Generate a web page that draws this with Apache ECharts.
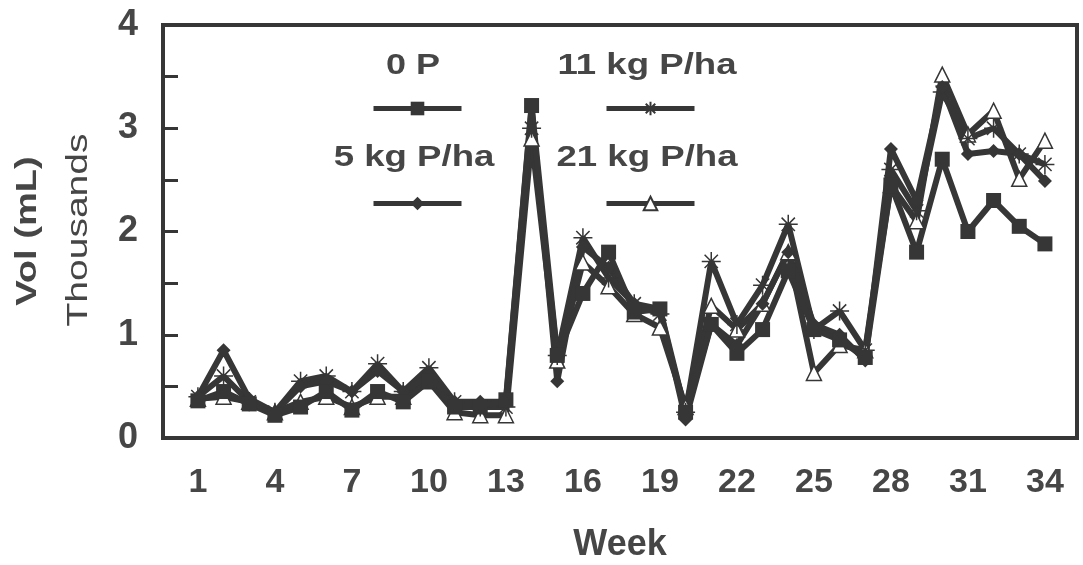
<!DOCTYPE html>
<html>
<head>
<meta charset="utf-8">
<script src="https://cdn.jsdelivr.net/npm/echarts@6/dist/echarts.min.js"></script>
<style>
  html, body { margin: 0; padding: 0; background: #fff; }
  #chart { width: 1083px; height: 565px; }
</style>
</head>
<body>
<div id="chart"></div>
<script>
// weeks 1..34
const weeks = Array.from({ length: 34 }, (_, i) => i + 1);
const weekTicks = [1, 4, 7, 10, 13, 16, 19, 22, 25, 28, 31, 34];

// volumes in thousands of mL
const p0 = [0.36, 0.45, 0.33, 0.22, 0.30, 0.45, 0.27, 0.45, 0.35, 0.55, 0.30, 0.30, 0.37, 3.22, 0.80, 1.40, 1.80, 1.22, 1.25, 0.25,
  1.10, 0.82, 1.05, 1.62, 1.05, 0.95, 0.78, 2.45, 1.80, 2.70, 2.00, 2.30, 2.05, 1.88];
const p5 = [0.40, 0.85, 0.38, 0.25, 0.50, 0.55, 0.45, 0.65, 0.45, 0.60, 0.35, 0.35, 0.35, 3.20, 0.55, 1.85, 1.65, 1.30, 1.25, 0.18,
  1.10, 0.90, 1.30, 1.80, 1.10, 1.00, 0.75, 2.80, 2.30, 3.40, 2.75, 2.78, 2.75, 2.49];
const p11 = [0.40, 0.60, 0.35, 0.25, 0.55, 0.60, 0.45, 0.72, 0.45, 0.68, 0.35, 0.30, 0.30, 3.00, 0.80, 1.94, 1.55, 1.30, 1.20, 0.25,
  1.71, 1.10, 1.48, 2.07, 1.05, 1.23, 0.85, 2.60, 2.20, 3.35, 2.90, 3.00, 2.75, 2.65];
const p21 = [0.38, 0.40, 0.35, 0.25, 0.35, 0.40, 0.30, 0.40, 0.40, 0.55, 0.25, 0.22, 0.22, 2.90, 0.75, 1.70, 1.47, 1.20, 1.07, 0.30,
  1.28, 1.05, 1.30, 1.80, 0.63, 0.90, 0.85, 2.45, 2.10, 3.52, 2.94, 3.17, 2.51, 2.88];

const seriesNames = ['0 P', '5 kg P/ha', '11 kg P/ha', '21 kg P/ha'];

const ink = '#363636';
const textInk = '#464646';
const asterisk = 'path://M10,0L10,20M0,10L20,10M3,3L17,17M3,17L17,3';

function pairs(vals) {
  return vals.map((v, i) => [weeks[i], v]);
}

function lineSeries(name, vals, symbol, size, itemStyle) {
  return {
    name: name,
    type: 'line',
    data: pairs(vals),
    symbol: symbol,
    symbolSize: size,
    showAllSymbol: true,
    lineStyle: { color: ink, width: 6 },
    itemStyle: itemStyle,
    z: 3
  };
}

function legendAt(name, left, top) {
  return {
    data: [name],
    left: left,
    top: top,
    padding: 0,
    itemWidth: 88,
    itemHeight: 17,
    formatter: () => '',
    lineStyle: { width: 5 },
    selectedMode: false
  };
}

function label(text, x, y, font, extra) {
  return Object.assign({
    type: 'text',
    x: x,
    y: y,
    z: 10,
    style: {
      text: text,
      font: font,
      fill: textInk,
      align: 'center',
      verticalAlign: 'middle'
    }
  }, extra || {});
}

const chart = echarts.init(document.getElementById('chart'));

chart.setOption({
  animation: false,
  backgroundColor: '#fff',
  grid: {
    left: 163, right: 6, top: 25, bottom: 127,
    outerBoundsMode: 'none',
    show: true,
    borderColor: ink,
    borderWidth: 4
  },
  xAxis: {
    type: 'value',
    min: -0.36,
    max: 35.25,
    axisLine: { show: false, onZero: false },
    axisTick: { show: false },
    splitLine: { show: false },
    axisLabel: {
      customValues: weekTicks,
      margin: 28,
      color: textInk,
      fontFamily: 'Liberation Sans, Arial, sans-serif',
      fontWeight: 'bold',
      fontSize: 34
    },
    name: 'Week',
    nameLocation: 'middle',
    nameGap: 89,
    nameTextStyle: {
      color: textInk,
      fontFamily: 'Liberation Sans, Arial, sans-serif',
      fontWeight: 'bold',
      fontSize: 36
    }
  },
  yAxis: {
    type: 'value',
    min: 0,
    max: 4,
    interval: 0.5,
    axisLine: { show: false, onZero: false },
    axisTick: { show: true, inside: true, length: 15, lineStyle: { color: ink, width: 3 } },
    splitLine: { show: false },
    axisLabel: {
      margin: 25,
      color: textInk,
      fontFamily: 'Liberation Sans, Arial, sans-serif',
      fontWeight: 'bold',
      fontSize: 36,
      formatter: v => (v % 1 === 0 ? String(v) : '')
    }
  },
  legend: [
    legendAt(seriesNames[0], 371, 100),
    legendAt(seriesNames[1], 371, 195),
    legendAt(seriesNames[2], 604, 100),
    legendAt(seriesNames[3], 604, 195)
  ],
  graphic: [
    label('Vol (mL)', 28, 231, 'bold 30px "Liberation Sans", Arial, sans-serif', { rotation: Math.PI / 2, scaleX: 1.27 }),
    label('Thousands', 79, 230, '30px "Liberation Sans", Arial, sans-serif', { rotation: Math.PI / 2, scaleX: 1.3 }),
    label(seriesNames[0], 413, 66, 'bold 30px "Liberation Sans", Arial, sans-serif', { scaleX: 1.2 }),
    label(seriesNames[1], 414, 158, 'bold 30px "Liberation Sans", Arial, sans-serif', { scaleX: 1.22 }),
    label(seriesNames[2], 647, 66, 'bold 30px "Liberation Sans", Arial, sans-serif', { scaleX: 1.22 }),
    label(seriesNames[3], 647, 158, 'bold 30px "Liberation Sans", Arial, sans-serif', { scaleX: 1.22 })
  ],
  series: [
    lineSeries(seriesNames[3], p21, 'triangle', 15, { color: '#fff', borderColor: ink, borderWidth: 1.5 }),
    lineSeries(seriesNames[2], p11, asterisk, 19, { color: 'transparent', borderColor: ink, borderWidth: 1.5 }),
    lineSeries(seriesNames[1], p5, 'diamond', 14, { color: ink }),
    lineSeries(seriesNames[0], p0, 'rect', 15, { color: ink })
  ]
});
</script>
</body>
</html>
